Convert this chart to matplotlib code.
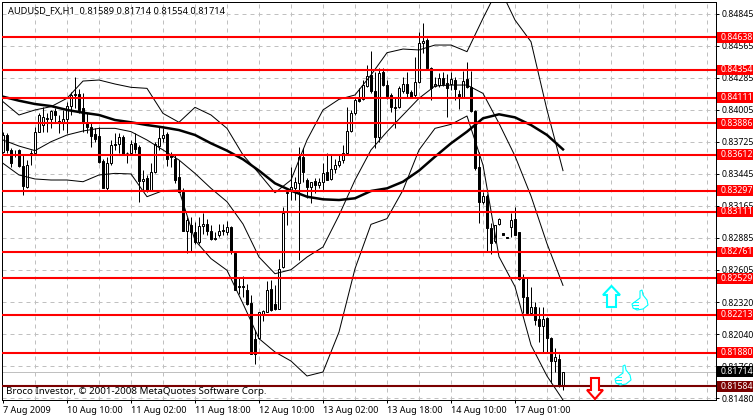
import numpy as np
import matplotlib
matplotlib.use('Agg')
import matplotlib.pyplot as plt
from matplotlib.patches import Polygon, Rectangle
from matplotlib.transforms import Affine2D, blended_transform_factory

# quotes in pips (price * 10000), one hourly bar per entry
opens = [8363.8,8378.4,8365.3,8361.8,8365.3,8351.5,8333.2,8361.5,8362.9,8381.3,
         8387.1,8392.1,8392.1,8399.4,8390.9,8389.5,8392.1,8403.7,8414.2,8414.0,
         8401.7,8388.6,8385.1,8379.0,8377.5,8355.9,8331.7,8353.6,8370.5,8370.5,
         8376.9,8362.9,8362.3,8371.1,8368.2,8338.1,8341.0,8330.2,8345.7,8368.7,
         8375.5,8379.0,8360.9,8357.4,8341.3,8328.8,8294.4,8299.3,8293.5,8284.7,
         8298.5,8300.2,8294.4,8288.5,8290.6,8295.0,8293.5,8297.9,8275.4,8246.0,
         8246.0,8243.0,8231.4,8200.2,8201.0,8222.0,8223.5,8243.9,8230.2,8226.4,
         8262.9,8327.9,8329.7,8331.7,8336.7,8359.4,8339.0,8332.6,8338.1,8334.6,
         8337.5,8345.7,8339.9,8348.3,8351.8,8356.5,8362.3,8382.2,8397.3,8409.9,
         8409.6,8421.3,8430.9,8417.2,8376.3,8433.8,8422.1,8413.4,8403.2,8402.6,
         8417.2,8422.7,8416.3,8413.1,8425.0,8458.6,8461.5,8436.7,8421.3,8422.1,
         8428.0,8423.6,8423.0,8426.5,8414.2,8411.9,8427.1,8420.1,8399.8,8350.4,
         8319.8,8325.0,8297.0,8285.6,8300.5,8292.6,8289.1,8297.9,8304.9,8293.5,
         8252.4,8236.6,8222.6,8227.9,8217.4,8211.2,8218.3,8200.7,8180.6,8182.4,8158.9]
highs = [8381.3,8379.8,8366.7,8365.3,8365.8,8360.9,8356.5,8365.3,8385.7,8397.3,
         8403.2,8397.3,8400.3,8401.7,8395.9,8400.3,8407.5,8416.3,8428.8,8418.3,
         8414.8,8397.3,8388.6,8384.2,8385.7,8357.1,8359.4,8374.0,8379.8,8379.8,
         8378.4,8363.8,8374.0,8379.8,8369.6,8347.8,8343.4,8353.6,8372.5,8385.7,
         8384.2,8381.3,8363.8,8360.9,8356.5,8331.7,8306.6,8306.6,8302.3,8306.6,
         8310.1,8305.2,8299.3,8293.5,8300.8,8300.8,8303.1,8298.5,8276.0,8254.1,
         8254.7,8248.3,8238.1,8207.5,8223.5,8225.0,8250.6,8251.2,8246.8,8270.2,
         8315.4,8330.2,8350.7,8341.9,8368.2,8366.7,8340.5,8337.5,8340.5,8340.5,
         8353.6,8362.3,8360.9,8357.1,8360.9,8369.6,8402.6,8400.3,8411.9,8419.2,
         8426.5,8439.6,8451.9,8433.8,8436.7,8436.7,8426.5,8414.8,8411.9,8421.3,
         8429.4,8433.8,8417.7,8446.9,8468.2,8476.1,8463.0,8438.2,8429.4,8432.3,
         8433.8,8431.7,8433.8,8429.4,8417.7,8434.7,8442.5,8434.7,8400.3,8363.5,
         8328.5,8326.8,8301.4,8299.6,8305.7,8292.6,8289.1,8310.1,8315.4,8293.5,
         8256.8,8254.1,8245.4,8232.3,8227.9,8227.9,8219.1,8201.6,8192.0,8186.8,8171.4]
lows = [8362.3,8362.3,8350.7,8359.4,8350.7,8325.9,8331.7,8352.1,8362.3,8381.3,
        8381.3,8381.3,8384.2,8388.6,8380.4,8382.7,8379.8,8395.9,8401.7,8397.3,
        8381.3,8379.8,8368.2,8372.5,8353.6,8331.7,8330.2,8352.1,8365.3,8362.3,
        8360.9,8353.6,8360.9,8362.3,8319.5,8330.2,8328.8,8329.7,8344.8,8365.3,
        8372.5,8351.2,8350.7,8336.7,8328.8,8294.4,8275.1,8276.0,8283.3,8283.3,
        8292.0,8290.6,8286.2,8286.2,8289.1,8290.6,8290.6,8274.5,8242.5,8239.0,
        8236.6,8229.3,8187.0,8178.3,8200.2,8215.6,8223.5,8224.4,8225.5,8226.4,
        8262.3,8299.3,8321.5,8321.5,8268.7,8337.5,8323.0,8318.6,8327.3,8331.7,
        8330.2,8339.0,8339.0,8344.8,8350.7,8353.6,8361.8,8381.3,8395.9,8407.5,
        8409.0,8420.1,8414.8,8366.7,8372.5,8421.3,8409.6,8398.8,8384.2,8401.7,
        8414.8,8411.9,8410.5,8411.9,8424.2,8450.4,8435.8,8409.0,8420.1,8420.7,
        8421.3,8393.8,8417.7,8409.0,8400.8,8411.3,8419.2,8398.8,8347.8,8301.4,
        8318.0,8276.9,8274.3,8283.9,8299.6,8290.9,8288.5,8289.1,8290.9,8251.7,
        8222.6,8222.6,8222.6,8212.1,8197.3,8188.5,8188.5,8161.4,8171.0,8157.9,8155.4]
closes = [8378.4,8365.3,8354.2,8360.9,8351.5,8334.0,8352.1,8362.3,8381.3,8395.9,
          8393.8,8393.0,8399.4,8395.9,8389.5,8392.1,8403.7,8413.4,8413.4,8400.3,
          8389.2,8385.1,8377.5,8374.6,8355.0,8332.3,8353.6,8369.6,8369.6,8376.9,
          8361.8,8362.3,8370.5,8366.1,8338.1,8339.6,8329.7,8345.7,8370.2,8375.5,
          8378.4,8357.1,8359.4,8339.0,8328.8,8294.4,8303.7,8293.5,8284.7,8298.5,
          8300.2,8294.4,8287.7,8287.7,8294.1,8294.4,8297.9,8276.0,8243.0,8245.4,
          8245.1,8230.8,8187.0,8187.0,8223.5,8224.1,8242.5,8225.5,8226.4,8261.4,
          8310.1,8328.8,8333.2,8337.5,8359.4,8346.3,8332.6,8337.5,8334.6,8337.5,
          8345.4,8339.0,8348.3,8351.8,8355.9,8362.3,8381.9,8397.3,8409.0,8408.4,
          8422.1,8430.0,8417.2,8376.3,8432.9,8422.1,8412.5,8403.2,8402.3,8419.8,
          8422.7,8415.4,8411.9,8425.0,8458.6,8460.9,8436.7,8419.2,8422.7,8428.0,
          8423.0,8419.2,8427.4,8418.3,8411.9,8425.9,8420.1,8399.7,8349.5,8319.8,
          8325.0,8297.0,8283.9,8299.6,8304.9,8290.9,8288.5,8304.0,8290.9,8252.4,
          8236.6,8222.6,8227.9,8216.5,8211.2,8217.4,8200.7,8180.6,8184.1,8158.7,8171.4]

# indicators, read every 4th bar
line_bars = list(range(0, 141, 4))
long_ma = [8411.9,8408.4,8405.5,8403.7,8400.3,8397.9,8395.9,8391.5,8389.5,8387.1,8385.1,8382.7,8378.4,8371.1,8364.7,8357.1,
           8347.2,8336.1,8329.7,8324.4,8322.1,8321.5,8323.0,8329.4,8331.7,8337.5,8347.2,8359.4,8371.1,8381.3,8393.0,8396.5,
           8393.8,8387.1,8378.4,8365.8]
band_upper = [8407.5,8395.9,8400.3,8403.2,8410.5,8425.6,8426.5,8423.0,8420.1,8419.2,8397.3,8389.5,8402.6,8395.9,8384.2,8360.9,
              8344.8,8327.9,8339.0,8374.0,8400.3,8409.6,8413.4,8430.9,8450.4,8453.6,8452.8,8457.1,8457.1,8451.3,8480.5,8508.2,
              8479.0,8460.0,8400.3,8347.2]
band_mid = [8374.0,8368.7,8364.7,8372.5,8378.4,8381.9,8384.2,8384.2,8381.3,8374.0,8365.3,8356.5,8344.8,8331.7,8320.0,8300.5,
            8271.6,8257.0,8260.5,8271.6,8280.4,8308.1,8339.0,8365.3,8381.3,8395.9,8410.5,8421.3,8422.1,8422.1,8414.8,8388.6,
            8360.0,8325.0,8283.3,8246.8]
band_lower = [8353.6,8343.4,8339.9,8339.0,8339.0,8337.5,8343.4,8344.8,8344.3,8324.4,8329.7,8330.2,8286.2,8270.2,8260.0,8230.8,
              8200.2,8188.5,8180.6,8167.5,8171.0,8206.0,8261.4,8300.2,8305.2,8330.2,8365.3,8384.2,8387.7,8395.0,8352.1,8271.9,
              8245.7,8194.6,8167.5,8146.5]

levels = [0.84638, 0.84354, 0.84111, 0.83886, 0.83612, 0.83297, 0.83111, 0.82761, 0.82529, 0.82213, 0.81880]
support = 0.81584
last_price = 0.81714
price_ticks = [0.84845, 0.84565, 0.84285, 0.84005, 0.83725, 0.83445, 0.83165,
               0.82885, 0.82605, 0.82320, 0.82040, 0.81760, 0.81480]
time_ticks = [0, 16, 32, 48, 64, 80, 96, 112, 128]
time_labels = ['7 Aug 2009', '10 Aug 10:00', '11 Aug 02:00', '11 Aug 18:00', '12 Aug 10:00',
               '13 Aug 02:00', '13 Aug 18:00', '14 Aug 10:00', '17 Aug 01:00']

FONT = 'Noto Sans'
W, H = 753, 417

fig = plt.figure(figsize=(W / 100, H / 100), dpi=100, facecolor='white')
ax = fig.add_axes([2.3 / W, 1 - 400 / H, (715.7 - 2.3) / W, (400 - 2.3) / H])
ax.set_xlim(-0.175, 178.175)
ax.set_ylim(0.81465, 0.84945)

o = np.array(opens) / 10000
h = np.array(highs) / 10000
l = np.array(lows) / 10000
c = np.array(closes) / 10000
bars = np.arange(len(o))

# grid
for b in range(8, 177, 8):
    ax.axvline(b, color='#c0c0c0', lw=0.72, ls=(0, (4, 4)), zorder=1)
for p in price_ticks:
    ax.axhline(p, color='#c0c0c0', lw=0.72, ls=(0, (4, 4)), zorder=1)
ax.axhline(last_price, color='#c0c0c0', lw=0.72, zorder=1)

# candles
ax.vlines(bars, l, h, color='black', lw=0.72, zorder=2)
up = c >= o
ax.bar(bars[up], (c - o)[up], bottom=o[up], width=0.5, facecolor='white', edgecolor='black', lw=0.72, zorder=3)
ax.bar(bars[~up], (c - o)[~up], bottom=o[~up], width=0.5, facecolor='black', edgecolor='black', lw=0.72, zorder=3)

# indicators
ax.plot(line_bars, np.array(band_upper) / 10000, color='black', lw=0.72, zorder=4)
ax.plot(line_bars, np.array(band_mid) / 10000, color='black', lw=0.72, zorder=4)
ax.plot(line_bars, np.array(band_lower) / 10000, color='black', lw=0.72, zorder=4)
ax.plot(line_bars, np.array(long_ma) / 10000, color='black', lw=1.8, zorder=4)

# horizontal levels
for p in levels:
    ax.axhline(p, color='#ff0000', lw=1.5, zorder=5)
ax.axhline(support, color='#7a0000', lw=1.5, zorder=5)

ax.set_xticks(time_ticks)
ax.set_xticklabels(time_labels, ha='left', fontsize=6.5, family=FONT)
ax.set_yticks(price_ticks)
ax.set_yticklabels(['%.5f' % p for p in price_ticks], fontsize=6.3, family=FONT)
ax.yaxis.tick_right()
ax.tick_params(axis='x', length=2.5, width=0.72, pad=2)
ax.tick_params(axis='y', length=2.5, width=0.72, pad=2)
for s in ax.spines.values():
    s.set_linewidth(0.72)

# price tags on the right scale
tag_tr = blended_transform_factory(ax.transAxes, ax.transData)
def price_tag(p, color):
    ax.add_patch(Rectangle((1.0018, p - 0.00046), 0.06, 0.00092, transform=tag_tr,
                           facecolor=color, edgecolor='none', clip_on=False, zorder=6))
    ax.text(1.0068, p, '%.5f' % p, transform=tag_tr, color='white', fontsize=6.3, family=FONT,
            va='center', ha='left', clip_on=False, zorder=7)

for p in levels:
    price_tag(p, '#ff0000')
price_tag(last_price, 'black')
price_tag(support, '#7a0000')

px = Affine2D().scale(1, -1).translate(0, H)
ax.text(8, 10.7, 'AUDUSD_FX,H1  0.81589 0.81714 0.81554 0.81714', transform=px,
        fontsize=6.65, family=FONT, va='center', ha='left', zorder=8)
ax.text(6.5, 391.5, 'Broco Investor, \u00a9 2001-2008 MetaQuotes Software Corp.', transform=px,
        fontsize=7.0, family=FONT, va='center', ha='left', zorder=8)

# signal arrows and hands, placed in image pixels
def add_shape(pts, edge, lw=1.5, face='white'):
    fig.add_artist(Polygon(pts, closed=True, transform=px, facecolor=face, edgecolor=edge, lw=lw, zorder=9))

add_shape([(611.5, 286), (620, 295), (616, 295), (616, 307), (607, 307), (607, 295), (603, 295)], '#00ffff')
add_shape([(591, 378), (599, 378), (599, 390), (603, 390), (595, 399), (587, 390), (591, 390)], '#ff0000')

def thumb(x, y):
    add_shape([(x + 4, y + 11), (x + 8, y + 8), (x + 8, y + 1), (x + 10, y), (x + 11, y + 5), (x + 15, y + 10),
               (x + 16, y + 15), (x + 11, y + 19), (x + 5, y + 20), (x + 1, y + 18), (x, y + 14)], '#00ffff', lw=0.8)
    for k in (12, 15, 18):
        fig.add_artist(plt.Line2D([x + 1, x + 6], [y + k, y + k], transform=px, color='#00ffff', lw=0.7, zorder=10))

thumb(632, 290)
thumb(615, 365)

fig.savefig('out.png', dpi=100, facecolor='white')
